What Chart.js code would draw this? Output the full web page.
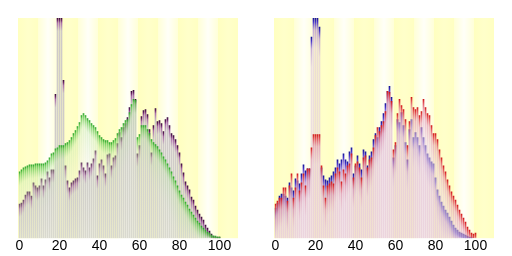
<!DOCTYPE html>
<html>
<head>
<meta charset="utf-8">
<script src="https://cdn.jsdelivr.net/npm/chart.js@4/dist/chart.umd.min.js"></script>
<style>
html,body{margin:0;padding:0;background:#fff;}
canvas{position:absolute;top:0;}
#c1{left:0;} #c2{left:256px;}
</style>
</head>
<body>
<canvas id="c1" width="256" height="256"></canvas>
<canvas id="c2" width="256" height="256"></canvas>
<script>
// ---- data ----
const ages = Array.from({length: 110}, (_, i) => i);
const tickLabels = ['0', '20', '40', '60', '80', '100'];

// left panel: municipality total (purple) vs Japan average (green)
const localTotal = [34,35,38,43,46,46,42,55,52,50, 52,59,52,58,66,60,68,68,143,250,
  250,250,157,72,57,50,55,57,59,60, 67,75,70,67,75,70,74,79,87,62,
  74,78,72,64,83,84,72,80,82,94, 105,100,110,114,120,130,146,147,138,84,
  92,121,127,128,123,108,85,112,129,116, 117,114,106,118,120,112,104,102,98,92,
  85,74,65,56,52,48,41,38,32,28, 24,21,18,13,10,7,4,2,1,1, 1];
const japanTotal = [66,68,70,71,72,73,73,73,74,74, 74,74,74,75,77,80,84,85,89,90,
  92,92,92,94,95,97,100,104,107,111, 115,122,124,122,119,117,114,112,110,106,
  102,100,98,97,97,95,95,97,99,104, 108,110,114,117,118,125,133,138,137,100,
  103,112,112,112,108,104,98,95,93,91, 88,85,81,78,74,70,66,61,57,52,
  47,43,40,36,33,29,26,23,20,17, 15,12,10,8,6,5,3,2,2,1, 1];

// right panel: male (blue) and female (red)
const male = [30,35,42,44,44,42,40,55,50,47, 59,57,54,64,73,67,69,69,200,300,
  300,300,210,70,62,58,57,60,62,66, 70,78,74,78,84,78,76,86,90,64,
  72,82,74,68,88,86,72,82,86,98, 104,100,110,116,124,134,146,151,140,80,
  92,118,115,125,112,95,78,108,118,100, 105,100,92,110,100,92,84,80,76,74,
  60,48,42,36,32,28,25,21,17,13, 10,8,6,5,4,3,2,1,1,0, 0];
const female = [34,37,40,40,50,50,37,52,64,40, 50,64,47,55,64,52,69,69,90,103,
  103,103,103,72,52,40,52,54,56,54, 64,70,66,56,68,64,72,74,84,60,
  74,76,70,60,80,82,70,78,80,90, 102,110,106,112,116,126,146,145,136,88,
  95,124,138,132,128,118,92,116,140,130, 128,130,122,126,138,130,124,122,112,104,
  104,98,88,80,72,66,58,52,46,42, 38,33,28,24,20,16,11,8,5,4, 5];

// ---- drawing helpers ----
function gradientFill(stops, fallback) {
  return (c) => {
    const chart = c.chart, a = chart.chartArea;
    if (!a || c.raw == null || !chart.scales.y) return fallback;
    let top = chart.scales.y.getPixelForValue(c.raw);
    top = Math.max(top, a.top);
    const h = Math.max(1, a.bottom - top);
    const g = chart.ctx.createLinearGradient(0, top, 0, a.bottom);
    for (const [d, col] of stops) {
      const f = Math.min(1, d / h);
      g.addColorStop(f, col);
      if (f >= 1) break;
    }
    return g;
  };
}

const stripes = {
  id: 'stripes',
  beforeDatasetsDraw(chart) {
    const {ctx, chartArea: a} = chart;
    const slot = (a.right - a.left) / ages.length;
    for (let d = 0; d * 10 < ages.length; d++) {
      const x0 = Math.floor(a.left + d * 10 * slot);
      const x1 = Math.floor(a.left + (d + 1) * 10 * slot);
      const g = ctx.createLinearGradient(x0, 0, x1, 0);
      if (d % 2 === 0) {
        g.addColorStop(0, '#ffffc0'); g.addColorStop(0.5, '#ffffca'); g.addColorStop(1, '#ffffc2');
      } else {
        g.addColorStop(0, '#ffffd6'); g.addColorStop(0.5, '#fffff8'); g.addColorStop(1, '#ffffd8');
      }
      ctx.fillStyle = g;
      ctx.fillRect(x0, a.top, x1 - x0, a.bottom - a.top);
    }
  }
};

function makeChart(id, datasets) {
  return new Chart(document.getElementById(id), {
    type: 'bar',
    data: { labels: ages, datasets },
    options: {
      responsive: false,
      animation: false,
      events: [],
      layout: { padding: { left: 18.5, right: 17.5, top: 18, bottom: 1 } },
      plugins: { legend: { display: false }, tooltip: { enabled: false } },
      scales: {
        x: {
          type: 'category',
          offset: true,
          grid: { display: false, drawTicks: false },
          border: { display: false },
          ticks: {
            autoSkip: false, maxRotation: 0, minRotation: 0, padding: 0,
            color: '#000',
            font: { family: 'Liberation Sans, Arial, sans-serif', size: 14 },
            callback: function(v) {
              const l = String(this.getLabelForValue(v));
              return tickLabels.includes(l) ? l : '';
            }
          }
        },
        y: { display: false, min: 0, max: 219 }
      }
    },
    plugins: [stripes]
  });
}

const common = { grouped: false, barThickness: 1, borderWidth: 0 };

makeChart('c1', [
  Object.assign({ label: 'Japan', data: japanTotal,
    backgroundColor: gradientFill([[0,'rgba(40,165,40,1)'],[3,'rgba(100,200,80,0.85)'],[14,'rgba(190,228,170,0.45)'],[45,'rgba(215,225,205,0.25)'],[1e6,'rgba(220,220,210,0.2)']], '#8c8') }, common),
  Object.assign({ label: 'Local', data: localTotal,
    backgroundColor: gradientFill([[0,'rgb(60,15,60)'],[2,'rgb(100,30,100)'],[5,'rgb(170,110,170)'],[13,'rgb(205,200,200)'],[1e6,'rgb(216,216,206)']], '#ccc') }, common)
]);

makeChart('c2', [
  Object.assign({ label: 'Female', data: female,
    backgroundColor: gradientFill([[0,'rgba(210,25,25,1)'],[4,'rgba(225,70,80,0.9)'],[12,'rgba(225,150,175,0.65)'],[30,'rgba(232,200,215,0.6)'],[1e6,'rgba(234,204,216,0.6)']], '#e99') }, common),
  Object.assign({ label: 'Male', data: male,
    backgroundColor: gradientFill([[0,'rgba(20,20,150,1)'],[4,'rgba(60,40,200,0.95)'],[12,'rgba(165,125,210,0.65)'],[30,'rgba(222,198,224,0.6)'],[1e6,'rgba(228,204,222,0.6)']], '#99e') }, common)
]);
</script>
</body>
</html>
